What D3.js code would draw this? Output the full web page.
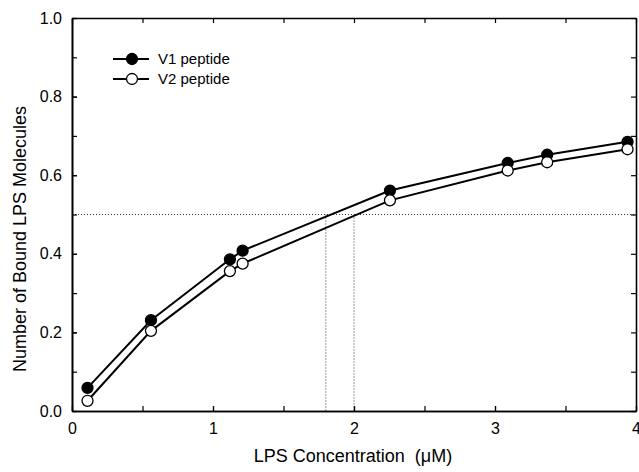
<!DOCTYPE html>
<html>
<head>
<meta charset="utf-8">
<script src="https://cdn.jsdelivr.net/npm/d3@7"></script>
<style>
  body { margin: 0; background: #fff; }
  text { font-family: "Liberation Sans", Arial, sans-serif; fill: #000; }
</style>
</head>
<body>
<div id="chart"></div>
<script>
// LPS concentration (uM) and fraction bound
var concV1 = [0.11, 0.56, 1.12, 1.21, 2.255, 3.09, 3.37, 3.94]
var boundV1 = [0.059, 0.231, 0.386, 0.408, 0.561, 0.631, 0.652, 0.685]
var concV2 = [0.11, 0.56, 1.12, 1.21, 2.255, 3.09, 3.37, 3.94]
var boundV2 = [0.026, 0.204, 0.356, 0.375, 0.536, 0.612, 0.633, 0.666]
var xTicks = [0, 1, 2, 3, 4]
var yTicks = [0, 0.2, 0.4, 0.6, 0.8, 1.0]
var halfLevel = 0.5
var halfConc = [1.8, 2.0]

var width = 639, height = 472
var margin = { top: 18, right: 2, bottom: 61, left: 72 }

var svg = d3.select('#chart').append('svg')
  .attr('width', width)
  .attr('height', height)

var x = d3.scaleLinear().domain([0, 4]).range([margin.left, width - margin.right - 1])
var y = d3.scaleLinear().domain([0, 1]).range([height - margin.bottom, margin.top])

var minorX = d3.range(0, 4.01, 0.5)
var minorY = d3.range(0, 1.01, 0.1)

// reference lines at half saturation
svg.append('line')
  .attr('x1', x(0)).attr('x2', x(4))
  .attr('y1', y(halfLevel)).attr('y2', y(halfLevel))
  .attr('stroke', '#000').attr('stroke-width', 0.8).attr('stroke-dasharray', '1,2')
svg.selectAll('.vref').data(halfConc).enter().append('line')
  .attr('x1', function (d) { return x(d) }).attr('x2', function (d) { return x(d) })
  .attr('y1', y(halfLevel)).attr('y2', y(0))
  .attr('stroke', '#000').attr('stroke-width', 0.8).attr('stroke-dasharray', '1,2')

// axes, ticks point inward
var bottom = svg.append('g').attr('transform', 'translate(0,' + y(0) + ')')
  .call(d3.axisBottom(x).tickValues(minorX).tickSize(-5).tickSizeOuter(0).tickFormat(''))
bottom.append('g')
  .call(d3.axisBottom(x).tickValues(xTicks).tickSize(-5).tickSizeOuter(0).tickPadding(12).tickFormat(d3.format('d')))
svg.append('g').attr('transform', 'translate(0,' + y(1) + ')')
  .call(d3.axisTop(x).tickValues(minorX).tickSize(-5).tickSizeOuter(0).tickFormat(''))
var left = svg.append('g').attr('transform', 'translate(' + x(0) + ',0)')
  .call(d3.axisLeft(y).tickValues(minorY).tickSize(-5).tickSizeOuter(0).tickFormat(''))
left.append('g')
  .call(d3.axisLeft(y).tickValues(yTicks).tickSize(-5).tickSizeOuter(0).tickPadding(10).tickFormat(d3.format('.1f')))
svg.append('g').attr('transform', 'translate(' + x(4) + ',0)')
  .call(d3.axisRight(y).tickValues(minorY).tickSize(-5).tickSizeOuter(0).tickFormat(''))

svg.selectAll('.domain').attr('stroke-width', 1.6)
svg.selectAll('.tick line').attr('stroke-width', 1.2)
svg.selectAll('.tick text').attr('font-size', null).style('font-size', '16px')
  .attr('font-family', null)

// axis titles
svg.append('text')
  .attr('x', 353).attr('y', 462)
  .attr('text-anchor', 'middle')
  .style('font-size', '18px')
  .style('white-space', 'pre')
  .text('LPS Concentration  (\u03bcM)')
svg.append('text')
  .attr('transform', 'translate(26,' + 239 + ') rotate(-90)')
  .attr('text-anchor', 'middle')
  .style('font-size', '18px')
  .text('Number of Bound LPS Molecules')

// series
var line = d3.line().x(function (d) { return x(d[0]) }).y(function (d) { return y(d[1]) })
var series = [
  { name: 'V1 peptide', pts: d3.zip(concV1, boundV1), fill: '#000' },
  { name: 'V2 peptide', pts: d3.zip(concV2, boundV2), fill: '#fff' }
]
series.forEach(function (s) {
  svg.append('path').datum(s.pts)
    .attr('d', line).attr('fill', 'none')
    .attr('stroke', '#000').attr('stroke-width', 2)
  svg.selectAll(null).data(s.pts).enter().append('circle')
    .attr('cx', function (d) { return x(d[0]) })
    .attr('cy', function (d) { return y(d[1]) })
    .attr('r', 5.5)
    .attr('fill', s.fill).attr('stroke', '#000').attr('stroke-width', 1.3)
})

// legend
var legend = svg.append('g').attr('transform', 'translate(113,59)')
series.forEach(function (s, i) {
  var g = legend.append('g').attr('transform', 'translate(0,' + i * 20 + ')')
  g.append('line').attr('x1', 0).attr('x2', 36).attr('stroke', '#000').attr('stroke-width', 2)
  g.append('circle').attr('cx', 19).attr('r', 5.5)
    .attr('fill', s.fill).attr('stroke', '#000').attr('stroke-width', 1.3)
  g.append('text').attr('x', 45).attr('y', 5).style('font-size', '15px').text(s.name)
})
</script>
</body>
</html>
